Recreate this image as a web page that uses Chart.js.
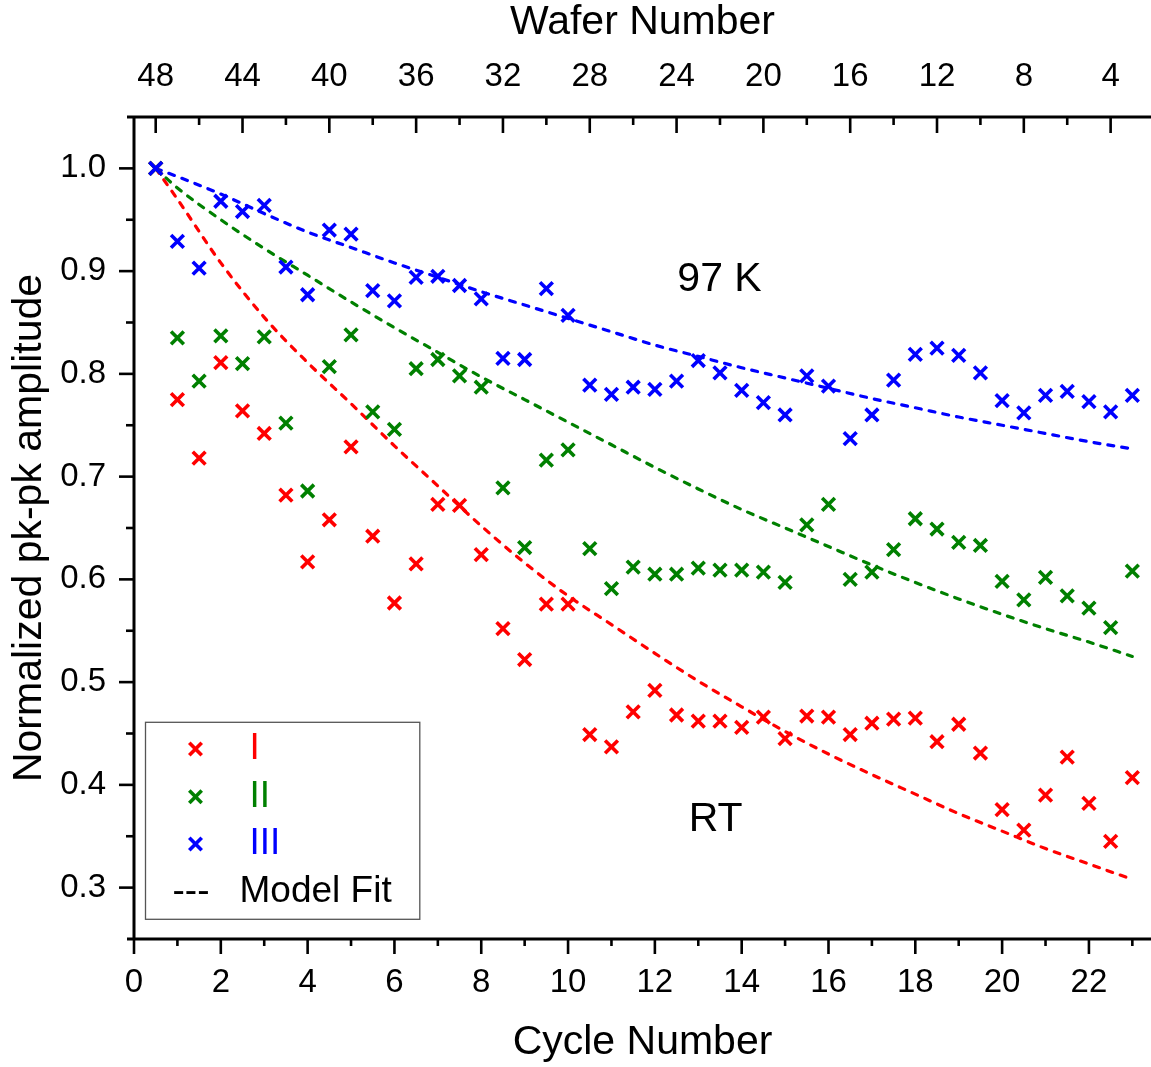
<!DOCTYPE html>
<html><head><meta charset="utf-8">
<script src="https://cdn.jsdelivr.net/npm/chart.js@4.4.1/dist/chart.umd.min.js"></script>
<style>html,body{margin:0;padding:0;background:#fff;overflow:hidden}canvas{display:block}</style>
</head><body>
<canvas id="c" width="1151" height="1067"></canvas>
<script>
// ---------- data ----------
const cycles = [0.5,1,1.5,2,2.5,3,3.5,4,4.5,5,5.5,6,6.5,7,7.5,8,8.5,9,9.5,10,10.5,11,11.5,12,12.5,13,13.5,14,14.5,15,15.5,16,16.5,17,17.5,18,18.5,19,19.5,20,20.5,21,21.5,22,22.5,23];
const seriesI = [1.0,0.775,0.718,0.811,0.764,0.742,0.682,0.617,0.658,0.729,0.642,0.577,0.615,0.673,0.672,0.624,0.552,0.522,0.576,0.576,0.449,0.437,0.471,0.492,0.468,0.462,0.462,0.456,0.466,0.445,0.467,0.466,0.449,0.460,0.464,0.465,0.442,0.459,0.431,0.376,0.356,0.390,0.427,0.382,0.345,0.407];
const seriesII = [1.0,0.835,0.793,0.837,0.810,0.836,0.752,0.686,0.807,0.838,0.763,0.746,0.805,0.814,0.798,0.787,0.689,0.631,0.716,0.726,0.630,0.591,0.612,0.605,0.605,0.611,0.609,0.609,0.607,0.597,0.653,0.673,0.600,0.607,0.629,0.659,0.649,0.636,0.633,0.598,0.580,0.602,0.584,0.572,0.553,0.608];
const seriesIII = [1.0,0.929,0.903,0.968,0.958,0.964,0.904,0.877,0.940,0.936,0.881,0.871,0.894,0.895,0.886,0.873,0.815,0.814,0.883,0.857,0.789,0.780,0.787,0.785,0.793,0.813,0.801,0.784,0.772,0.760,0.798,0.788,0.737,0.760,0.794,0.819,0.825,0.818,0.801,0.774,0.762,0.779,0.783,0.773,0.763,0.779];
const fitCycles = [0.5,1,2,3,4,5,6,7,8,9,10,11,12,13,14,15,16,17,18,19,20,21,22,23];
const fitI   = [1.0,0.970,0.908,0.855,0.811,0.771,0.730,0.691,0.652,0.616,0.584,0.556,0.528,0.501,0.476,0.452,0.430,0.410,0.391,0.372,0.355,0.338,0.323,0.308];
const fitII  = [1.0,0.981,0.950,0.922,0.896,0.870,0.845,0.821,0.797,0.775,0.753,0.731,0.709,0.688,0.668,0.650,0.632,0.614,0.597,0.581,0.566,0.552,0.539,0.525];
const fitIII = [1.0,0.992,0.975,0.956,0.938,0.923,0.908,0.894,0.880,0.867,0.854,0.841,0.828,0.817,0.806,0.796,0.786,0.776,0.767,0.758,0.750,0.742,0.734,0.727];
const seriesNames = ['I','II','III'];
const fitName = 'Model Fit';
const cycleTicks = [0,2,4,6,8,10,12,14,16,18,20,22];
const cycleMinorTicks = [1,3,5,7,9,11,13,15,17,19,21,23];
const waferTicks = [48,44,40,36,32,28,24,20,16,12,8,4];
const waferMinorTicks = [46,42,38,34,30,26,22,18,14,10,6];
const yTicks = [0.3,0.4,0.5,0.6,0.7,0.8,0.9,1.0];
const yMinorTicks = [0.35,0.45,0.55,0.65,0.75,0.85,0.95];
const annotations = [{text:'97 K', x:13.49, y:0.892},{text:'RT', x:13.40, y:0.3665}];

// ---------- style ----------
const colors = ['#ff0000','#008000','#0000ff'];
const FONT = "'Liberation Sans', Arial, Helvetica, sans-serif";
const X_MIN = 0, X_MAX = 23.43, Y_MIN = 0.25, Y_MAX = 1.05;
const WAFER_AT_ZERO = 49; // wafer = 49 - 2*cycle

const pts = (xs, ys) => xs.map((x,i)=>({x:x, y:ys[i]}));
const scatterSets = [seriesI, seriesII, seriesIII].map((s,i)=>({
  label: seriesNames[i], data: pts(cycles, s), showLine:false,
  pointStyle:'crossRot', pointRadius:9, pointBorderWidth:3.6,
  borderColor:colors[i], backgroundColor:colors[i], order: 2-i
}));
const fitSets = [fitI, fitII, fitIII].map((s,i)=>({
  label: fitName, data: pts(fitCycles, s), showLine:true, pointRadius:0,
  borderColor:colors[i], borderWidth:3.2, borderDash:[6,8], borderCapStyle:'round',
  cubicInterpolationMode:'monotone', fill:false, order: 5-i
}));

const frame = {
  id:'frame',
  afterDraw(chart){
    const ctx = chart.ctx, a = chart.chartArea;
    const sx = chart.scales.x, sx2 = chart.scales.x2, sy = chart.scales.y;
    const line=(x1,y1,x2,y2)=>{ctx.beginPath();ctx.moveTo(x1,y1);ctx.lineTo(x2,y2);ctx.stroke();};
    ctx.save();
    ctx.strokeStyle='#000'; ctx.lineCap='butt';
    ctx.lineWidth=3;
    line(a.left-7, a.bottom, a.right, a.bottom);
    line(a.left-7, a.top, a.right, a.top);
    line(a.left, a.top, a.left, a.bottom);
    ctx.lineWidth=2.6;
    yTicks.forEach(v=>{const p=sy.getPixelForValue(v); line(a.left-15,p,a.left,p);});
    yMinorTicks.forEach(v=>{const p=sy.getPixelForValue(v); line(a.left-8,p,a.left,p);});
    cycleTicks.forEach(v=>{const p=sx.getPixelForValue(v); line(p,a.bottom,p,a.bottom+15);});
    cycleMinorTicks.forEach(v=>{const p=sx.getPixelForValue(v); if(p<=a.right) line(p,a.bottom,p,a.bottom+7);});
    waferTicks.forEach(v=>{const p=sx2.getPixelForValue(v); line(p,a.top,p,a.top+16);});
    waferMinorTicks.forEach(v=>{const p=sx2.getPixelForValue(v); line(p,a.top,p,a.top+8);});
    // annotations
    ctx.fillStyle='#000'; ctx.font='41px '+FONT; ctx.textAlign='center'; ctx.textBaseline='middle';
    annotations.forEach(t=>ctx.fillText(t.text, sx.getPixelForValue(t.x), sy.getPixelForValue(t.y)));
    // legend
    const L = a.left+11.5, T = a.bottom-216.7, W = 274.3, H = 197;
    ctx.strokeStyle='#555'; ctx.lineWidth=1.3;
    ctx.strokeRect(L, T, W, H);
    const rowY = [T+26.7, T+74.4, T+121.7, T+169.4];
    ctx.font='37px '+FONT; ctx.textAlign='left'; ctx.textBaseline='middle';
    seriesNames.forEach((n,i)=>{
      const mx=L+50, my=rowY[i], d=6.2;
      ctx.strokeStyle=colors[i]; ctx.lineWidth=3.6;
      line(mx-d,my-d,mx+d,my+d); line(mx-d,my+d,mx+d,my-d);
      ctx.fillStyle=colors[i]; ctx.fillText(n, L+104, my);
    });
    ctx.fillStyle='#000';
    ctx.fillText('---', L+27, rowY[3]);
    ctx.fillText(fitName, L+94, rowY[3]);
    ctx.restore();
  }
};

const tickFont = {family:FONT, size:33};
const titleFont = {family:FONT, size:41};
const fixH = h => s => { s.height = h; s.paddingLeft = 0; s.paddingRight = 0; };
new Chart(document.getElementById('c'), {
  type:'scatter',
  data:{datasets:[...scatterSets, ...fitSets]},
  options:{
    responsive:false, animation:false, devicePixelRatio:1,
    layout:{padding:0, autoPadding:false},
    plugins:{legend:{display:false}, tooltip:{enabled:false}},
    scales:{
      x:{type:'linear', position:'bottom', min:X_MIN, max:X_MAX,
         grid:{display:false, drawTicks:false}, border:{display:false},
         afterBuildTicks:s=>{s.ticks=cycleTicks.map(v=>({value:v}));},
         ticks:{font:tickFont, color:'#000', padding:24, maxRotation:0, autoSkip:false, callback:v=>String(v)},
         title:{display:true, text:'Cycle Number', font:titleFont, color:'#000', padding:{top:0,bottom:0}},
         afterFit:fixH(128)},
      x2:{type:'linear', position:'top', reverse:true, min:WAFER_AT_ZERO-2*X_MAX, max:WAFER_AT_ZERO,
         grid:{display:false, drawTicks:false}, border:{display:false},
         afterBuildTicks:s=>{s.ticks=waferTicks.map(v=>({value:v}));},
         ticks:{font:tickFont, color:'#000', padding:20, maxRotation:0, autoSkip:false, callback:v=>String(v)},
         title:{display:true, text:'Wafer Number', font:titleFont, color:'#000', padding:{top:-2,bottom:0}},
         afterFit:fixH(117)},
      y:{type:'linear', position:'left', min:Y_MIN, max:Y_MAX,
         grid:{display:false, drawTicks:false}, border:{display:false},
         afterBuildTicks:s=>{s.ticks=yTicks.map(v=>({value:v}));},
         ticks:{font:tickFont, color:'#000', padding:28, autoSkip:false, callback:v=>Number(v).toFixed(1)},
         title:{display:true, text:'Normalized pk-pk amplitude', font:titleFont, color:'#000', padding:{top:5,bottom:0}},
         afterFit:s=>{s.width=134; s.paddingTop=0; s.paddingBottom=0;}}
    }
  },
  plugins:[frame]
});
</script>
</body></html>
